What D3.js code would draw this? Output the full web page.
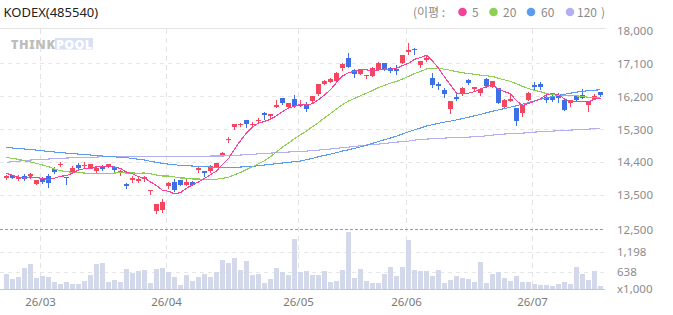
<!DOCTYPE html>
<html><head><meta charset="utf-8">
<script src="https://cdn.jsdelivr.net/npm/d3@7"></script>
<style>
html,body{margin:0;padding:0;background:#fff;}
svg{display:block;font-family:"Noto Sans","Noto Sans CJK KR",sans-serif;}
</style></head><body>
<svg id="chart" width="673" height="315"></svg>
<script>
const title = "KODEX(485540)";
const opens = [13965,14045,13935,14025,14015,13800,13970,14035,14210,14350,
14000,14145,14325,14290,14255,14160,14280,14265,14265,14100,
13810,13915,13900,13935,13610,13080,13110,13745,13855,13915,
13780,13870,14180,14160,14170,14280,14580,15000,15360,15415,
15545,15450,15515,15760,15665,15915,16150,15915,16125,15945,
16000,16070,16255,16535,16600,16625,16970,17255,16910,16805,
16775,16765,16925,17115,16980,16955,17125,17415,17505,17055,
17180,16715,16535,16380,15845,16190,16255,16655,16415,16300,
16680,16455,16425,15915,16080,15890,15755,16115,16510,16545,
16190,16215,16215,16110,16025,16235,16235,15960,16130,16315];
const highs = [14050,14050,14055,14080,14110,13915,14010,14070,14265,14400,
14000,14310,14380,14400,14350,14290,14315,14360,14290,14200,
13845,14025,13990,14035,13645,13265,13400,13855,13935,13920,
13935,13900,14280,14160,14325,14385,14690,15090,15445,15480,
15555,15500,15600,15765,15710,16100,16150,16015,16235,16090,
16055,16215,16545,16655,16690,16855,17100,17390,16935,16940,
16785,17000,17135,17125,16995,17070,17330,17655,17510,17155,
17325,16845,16600,16435,16065,16325,16460,16670,16465,16420,
16710,16630,16430,16125,16260,15890,15960,16325,16580,16600,
16280,16260,16300,16115,16095,16240,16390,16060,16270,16320];
const lows = [13950,13960,13915,13915,13980,13800,13845,13735,14115,14310,
13815,14115,14210,14280,14250,14100,14180,14260,14135,14045,
13710,13870,13865,13890,13525,13010,13055,13710,13615,13785,
13780,13770,14125,14035,14145,14280,14580,14955,15315,15390,
15370,15405,15480,15590,15615,15915,15990,15900,15915,15945,
15800,16060,16250,16525,16595,16620,16925,17000,16735,16800,
16690,16765,16920,16930,16865,16810,17120,17370,17345,17000,
17160,16460,16400,16190,15755,16100,16235,16525,16370,16235,
16470,16450,16020,15910,16080,15415,15670,16100,16415,16415,
16055,16080,16035,15830,15935,16070,16160,15810,16125,16215];
const closes = [14035,13965,14000,13945,14080,13915,13870,13825,14145,14355,
13965,14255,14235,14335,14345,14255,14210,14355,14180,14170,
13765,13980,13955,13990,13645,13265,13325,13835,13645,13790,
13870,13790,14235,14115,14310,14380,14660,15025,15445,15445,
15445,15460,15550,15690,15710,15960,16015,16015,15945,15990,
15855,16205,16535,16625,16680,16845,17080,17010,16815,16935,
16780,16965,17125,16935,16900,16905,17325,17460,17455,17155,
17235,16515,16490,16260,16065,16135,16435,16555,16465,16415,
16480,16625,16025,16110,16125,15535,15955,16300,16445,16445,
16100,16100,16160,15835,16090,16100,16165,16055,16215,16235];
const volumes = [573,433,489,741,853,461,517,489,349,293,
349,293,293,377,545,853,881,349,405,349,
713,601,657,685,321,713,741,629,489,265,
545,377,489,573,489,629,965,881,1021,685,
937,545,573,321,433,741,629,545,1553,629,
657,545,545,657,349,377,685,1739,461,713,
377,321,321,573,769,517,769,1525,685,657,
657,517,685,321,405,517,461,433,349,909,
321,573,629,461,377,517,349,349,293,265,
265,237,293,349,293,769,573,405,657,237];
const ma5 = [14099,14044,13999,13972,14004,13981,13963,13928,13968,14023,
14032,14108,14190,14228,14226,14284,14275,14299,14268,14233,
14135,14090,14010,13972,13866,13766,13635,13612,13543,13572,
13694,13786,13866,13961,14064,14166,14341,14499,14764,14992,
15204,15364,15470,15519,15572,15675,15786,15879,15930,15986,
15964,16002,16106,16242,16381,16579,16753,16848,16886,16937,
16924,16900,16924,16948,16940,16966,17039,17106,17210,17260,
17326,17164,16970,16731,16513,16293,16277,16290,16330,16401,
16470,16508,16402,16331,16273,16084,15950,16004,16071,16135,
16248,16277,16250,16128,16057,16057,16070,16048,16124,16153];
const ma20 = [14535,14508,14481,14444,14408,14372,14326,14281,14217,14172,
14144,14126,14117,14108,14099,14090,14090,14099,14108,14122,
14108,14109,14106,14109,14087,14054,14027,14027,14003,13974,
13970,13946,13946,13935,13933,13940,13963,13996,14060,14123,
14207,14282,14362,14446,14550,14684,14819,14928,15043,15153,
15252,15373,15488,15613,15732,15855,15976,16075,16144,16219,
16285,16361,16439,16501,16561,16608,16673,16746,16821,16880,
16949,16964,16961,16943,16912,16877,16845,16822,16804,16779,
16763,16747,16691,16651,16611,16543,16474,16416,16366,16331,
16273,16252,16236,16215,16217,16214,16201,16176,16163,16154];
const ma60 = [14808,14790,14781,14763,14753,14735,14717,14699,14681,14672,
14653,14644,14626,14617,14599,14590,14572,14563,14553,14535,
14526,14508,14481,14463,14426,14399,14372,14353,14335,14317,
14308,14299,14290,14281,14272,14263,14263,14263,14263,14272,
14281,14290,14308,14326,14344,14363,14381,14399,14417,14435,
14472,14508,14553,14590,14626,14663,14708,14744,14781,14822,
14867,14917,14969,15019,15066,15116,15173,15234,15289,15336,
15391,15428,15465,15498,15526,15558,15595,15631,15670,15707,
15752,15796,15831,15866,15908,15945,15989,16031,16077,16121,
16158,16197,16229,16258,16287,16316,16339,16356,16369,16381];
const ma120 = [14399,14417,14435,14444,14463,14472,14481,14490,14499,14508,
14517,14526,14526,14535,14544,14544,14553,14553,14563,14563,
14563,14563,14563,14563,14563,14563,14563,14563,14563,14563,
14563,14563,14563,14563,14572,14572,14572,14581,14590,14599,
14608,14617,14635,14644,14653,14663,14672,14681,14690,14699,
14708,14726,14735,14753,14763,14781,14799,14817,14835,14853,
14872,14890,14899,14917,14935,14953,14962,14981,15008,15026,
15035,15044,15053,15062,15072,15081,15081,15090,15099,15108,
15126,15144,15162,15172,15181,15190,15199,15208,15226,15235,
15244,15253,15262,15272,15281,15290,15299,15308,15317,15326];
const monthTickIndex = [6,27,49,67,88];
const monthLabels = ["26/03","26/04","26/05","26/06","26/07"];
const priceTicks = [12500,13500,14400,15300,16200,17100,18000];
const volumeTicks = [638,1198];
const volumeBaseLabel = "x1,000";
const legendPeriods = ["5","20","60","120"];

const C_UP = "#f4475f", C_DOWN = "#3d6fe6";
const maColors = ["#f5439b","#8dd053","#5b9cf0","#b3b0f2"];
const maSeries = [ma5, ma20, ma60, ma120];

const svg = d3.select("#chart");
const n = closes.length;
const x = d3.scalePoint().domain(d3.range(n)).range([6.5, 600.5]);
const cx = i => Math.round(x(i) - 0.5) + 0.5;
const y = d3.scaleLinear().domain([12581, 18053]).range([229, 28.5]);
const vy = d3.scaleLinear().domain([153, 1833]).range([289, 229]);
const X0 = 0, X1 = 605;

// header
svg.append("text").attr("x", 3.5).attr("y", 17).attr("font-size", 13).attr("fill", "#222").text(title);
const lg = svg.append("g").attr("font-size", 12).attr("fill", "#8a8a8a").attr("font-family", "'Noto Sans CJK KR','Noto Sans',sans-serif");
lg.append("text").attr("x", 413).attr("y", 17).text("(이평 :");
const legX = [[462.5, 472], [493.5, 503], [531, 541], [570, 577]];
legendPeriods.forEach((p, k) => {
  lg.append("circle").attr("cx", legX[k][0]).attr("cy", 12).attr("r", 4.3).attr("fill", maColors[k]);
  lg.append("text").attr("x", legX[k][1]).attr("y", 17).text(p);
});
lg.append("text").attr("x", 601).attr("y", 17).text(")");

// watermark
const wm = svg.append("g");
wm.append("rect").attr("x", 55).attr("y", 38).attr("width", 38).attr("height", 11.5).attr("fill", "#d9e0f6");
wm.append("text").attr("x", 11).attr("y", 49).attr("font-size", 12.5).attr("font-weight", 900)
  .attr("fill", "#bdbdbd").attr("textLength", 44).text("THINK");
wm.append("text").attr("x", 56).attr("y", 49).attr("font-size", 12.5).attr("font-weight", 900)
  .attr("fill", "#ffffff").attr("textLength", 36).text("POOL");

// grid
const grid = svg.append("g").attr("shape-rendering", "crispEdges");
grid.append("line").attr("x1", X0).attr("x2", X1).attr("y1", 28.5).attr("y2", 28.5).attr("stroke", "#e3e3e3");
priceTicks.slice(1, -1).forEach(v => {
  const yy = Math.round(y(v)) + 0.5;
  grid.append("line").attr("x1", X0).attr("x2", X1).attr("y1", yy).attr("y2", yy)
    .attr("stroke", "#e6e6e6").attr("stroke-dasharray", "4,4");
});
volumeTicks.forEach(v => {
  const yy = Math.round(vy(v)) + 0.5;
  grid.append("line").attr("x1", X0).attr("x2", X1).attr("y1", yy).attr("y2", yy)
    .attr("stroke", "#e6e6e6").attr("stroke-dasharray", "4,4");
});
monthTickIndex.forEach(i => {
  const xx = cx(i) - 2;
  grid.append("line").attr("x1", xx).attr("x2", xx).attr("y1", 29).attr("y2", 289)
    .attr("stroke", "#e3e3e3").attr("stroke-dasharray", "5,4");
});
grid.append("line").attr("x1", X0).attr("x2", X1).attr("y1", 229.5).attr("y2", 229.5)
  .attr("stroke", "#9a9a9a").attr("stroke-dasharray", "3,2");
grid.append("line").attr("x1", X0).attr("x2", X1).attr("y1", 289.5).attr("y2", 289.5).attr("stroke", "#c8c8c8");

// right labels
const al = svg.append("g").attr("font-size", 11.5).attr("fill", "#8c8c8c");
priceTicks.forEach(v => {
  const yy = Math.max(29, Math.min(230, y(v)));
  al.append("text").attr("x", 617).attr("y", yy).attr("dy", "0.36em").text(d3.format(",")(v));
});
volumeTicks.forEach(v => {
  al.append("text").attr("x", 617).attr("y", vy(v)).attr("dy", "0.36em").text(d3.format(",")(v));
});
al.append("text").attr("x", 617).attr("y", 289).attr("dy", "0.36em").text(volumeBaseLabel);

// x labels
const xl = svg.append("g").attr("font-size", 11.5).attr("fill", "#7a7a7a").attr("text-anchor", "middle");
monthTickIndex.forEach((i, k) => {
  xl.append("text").attr("x", cx(i) - 2).attr("y", 302).attr("dy", "0.36em").text(monthLabels[k]);
});

// volume bars
svg.append("g").attr("shape-rendering", "crispEdges").selectAll("rect").data(volumes).join("rect")
  .attr("x", (d, i) => cx(i) - 2.5).attr("width", 5)
  .attr("y", d => Math.round(vy(d))).attr("height", d => 289 - Math.round(vy(d)))
  .attr("fill", "#d3d8ea");

// candles
const cg = svg.append("g").attr("shape-rendering", "crispEdges");
d3.range(n).forEach(i => {
  const up = closes[i] >= opens[i];
  const col = up ? C_UP : C_DOWN;
  const xc = cx(i);
  cg.append("line").attr("x1", xc).attr("x2", xc)
    .attr("y1", Math.round(y(highs[i]))).attr("y2", Math.round(y(lows[i])) + 1).attr("stroke", col);
  const t = Math.round(y(Math.max(opens[i], closes[i])));
  const b = Math.round(y(Math.min(opens[i], closes[i])));
  cg.append("rect").attr("x", xc - 2.5).attr("width", 5).attr("y", t).attr("height", Math.max(1, b - t)).attr("fill", col);
});

// moving averages
const line = d3.line().x((d, i) => x(i)).y(d => y(d));
[3, 2, 1, 0].forEach(k => {
  svg.append("path").datum(maSeries[k]).attr("d", line).attr("fill", "none")
    .attr("stroke", maColors[k]).attr("stroke-width", 1.1).attr("shape-rendering", "crispEdges");
});
</script>
</body></html>
